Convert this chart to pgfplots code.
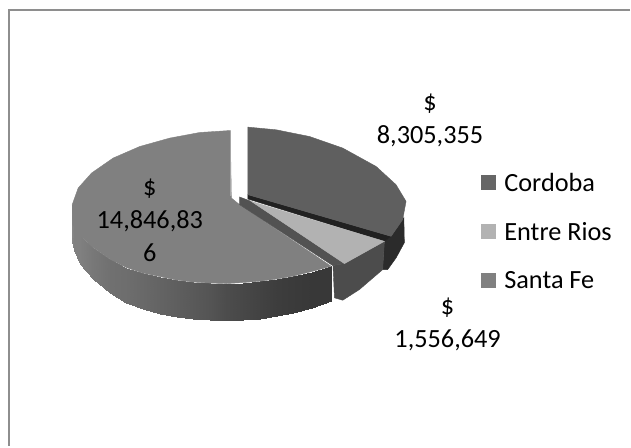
\documentclass[border=0pt]{standalone}
\usepackage{fontspec}
\setmainfont{Carlito}
\usepackage{pgfplots}
\pgfplotsset{compat=1.18}
\definecolor{frame}{HTML}{8E8E8E}
\definecolor{cordoba}{HTML}{5F5F5F}
\definecolor{entre}{HTML}{B2B2B2}
\definecolor{santa}{HTML}{808080}
\newcommand{\slab}{\fontsize{26.3}{30}\selectfont}
% one piece of the pie: shade of grey, then its outline in picture pixels
\newcommand{\piece}[2]{\addplot[forget plot,fill=#1,draw=#1,line width=0.4pt] coordinates {#2} --cycle;}
\begin{document}
\begin{tikzpicture}
\begin{axis}[
    width=631pt, height=447pt, scale only axis,
    xmin=0, xmax=631, ymin=0, ymax=447, y dir=reverse,
    hide axis, clip=false,
    colormap/blackwhite, point meta min=0, point meta max=1,
    legend style={at={(axis cs:482,171)},anchor=north west,draw=none,fill=none,
        font=\slab,row sep=25.5pt,inner sep=0pt},
    legend cell align=left,
    legend image code/.code={\fill[#1] (0pt,-7.5pt) rectangle (15pt,7.5pt);},
]
% hide axis drops the axis box from the page, so keep the page size with this
\addplot[forget plot,draw=none] coordinates {(0,0)(631,0)(631,447)(0,447)} --cycle;
% chart frame: only top and left edges are inside the picture
\addplot[forget plot,draw=frame,line width=2pt] coordinates {(631,10)(9,10)(9,447)};

% Santa Fe, rim from left to right
\addplot[forget plot,patch,patch type=rectangle,shader=interp,point meta=explicit]
  table[meta=g] {
x y g
72.3 205 .53
74 225 .50
74 250 .50
72.3 242 .53
74 225 .50
80 236 .50
80 264 .50
74 250 .50
80 236 .50
93.3 248 .47
93.3 279 .47
80 264 .50
93.3 248 .47
110 259.5 .44
110 293 .44
93.3 279 .47
110 259.5 .44
126.7 268 .43
126.7 303.5 .43
110 293 .44
126.7 268 .43
143 273.5 .41
143 309.5 .41
126.7 303.5 .43
143 273.5 .41
160 277 .39
160 314 .39
143 309.5 .41
160 277 .39
177 280.5 .37
177 317 .37
160 314 .39
177 280.5 .37
193.3 282.5 .35
193.3 319 .35
177 317 .37
193.3 282.5 .35
210 283.5 .33
210 320.3 .33
193.3 319 .35
210 283.5 .33
226.7 284 .30
226.7 320.8 .30
210 320.3 .33
226.7 284 .30
243 283 .28
243 320 .28
226.7 320.8 .30
243 283 .28
260 281.7 .26
260 319 .26
243 320 .28
260 281.7 .26
277 279.5 .24
277 316.5 .24
260 319 .26
277 279.5 .24
293.3 276.7 .23
293.3 313.5 .23
277 316.5 .24
293.3 276.7 .23
312 272 .22
312 308.5 .22
293.3 313.5 .23
312 272 .22
331.7 266.7 .22
331.7 301.7 .22
312 308.5 .22
};
% Santa Fe, top
\piece{santa}{(231.7,198.3)(230.7,130.7)(200,132.7)(170,138.3)(140,146.7)(113.3,158.3)(91.7,173.3)(78.3,188.3)(72.3,205)(73,225)(80,236)(93.3,248)(110,259.5)(126.7,268)(143,273.5)(160,277)(177,280.5)(193.3,282.5)(210,283.5)(226.7,284)(243,283)(260,281.7)(277,279.5)(293.3,276.7)(312,272)(331.7,266.7)(240,205)}
\addplot[forget plot,draw=black!35,line width=1.5pt] coordinates {(231,131)(231,196)};

% Cordoba
\piece{black!83}{(391.7,236.7)(404.5,218)(405,243)(396.7,258.3)(388.3,270)(383.3,270)(385,241.7)}
\piece{black!87}{(248.3,195)(391.7,236.7)(385,241.7)(248.3,199.3)}
\piece{cordoba}{(248.3,195)(248.3,127.3)(276.7,130)(310,136.7)(343.3,148.3)(376.7,166.7)(396.7,185)(406.7,201.7)(403.3,220)(391.7,236.7)}

% Entre Rios
\piece{black!70}{(345,264)(385,241.7)(383.3,270)(360,290)(343.3,300.7)(335,298.3)(333.5,266)}
\piece{black!68}{(240,197.3)(251.7,201.7)(345,264)(333.3,266)(240,205)}
\piece{entre}{(251.7,201.7)(385,241.7)(345,264)}

% legend swatches
\addlegendimage{fill=black!60,draw=none}\addlegendentry{\ Cordoba}
\addlegendimage{fill=entre,draw=none}\addlegendentry{\ Entre Rios}
\addlegendimage{fill=santa,draw=none}\addlegendentry{\ Santa Fe}

% data labels
\node[font=\slab,anchor=base] at (axis cs:430.7,110.7) {\$};
\node[font=\slab,anchor=base] at (axis cs:430.7,143.3) {8,305,355};
\node[font=\slab,anchor=base] at (axis cs:448.3,315) {\$};
\node[font=\slab,anchor=base] at (axis cs:448.3,348) {1,556,649};
\node[font=\slab,anchor=base] at (axis cs:150,196) {\$};
\node[font=\slab,anchor=base] at (axis cs:150,229.3) {14,846,83};
\node[font=\slab,anchor=base] at (axis cs:150,261.7) {6};
\end{axis}
\end{tikzpicture}
\end{document}
